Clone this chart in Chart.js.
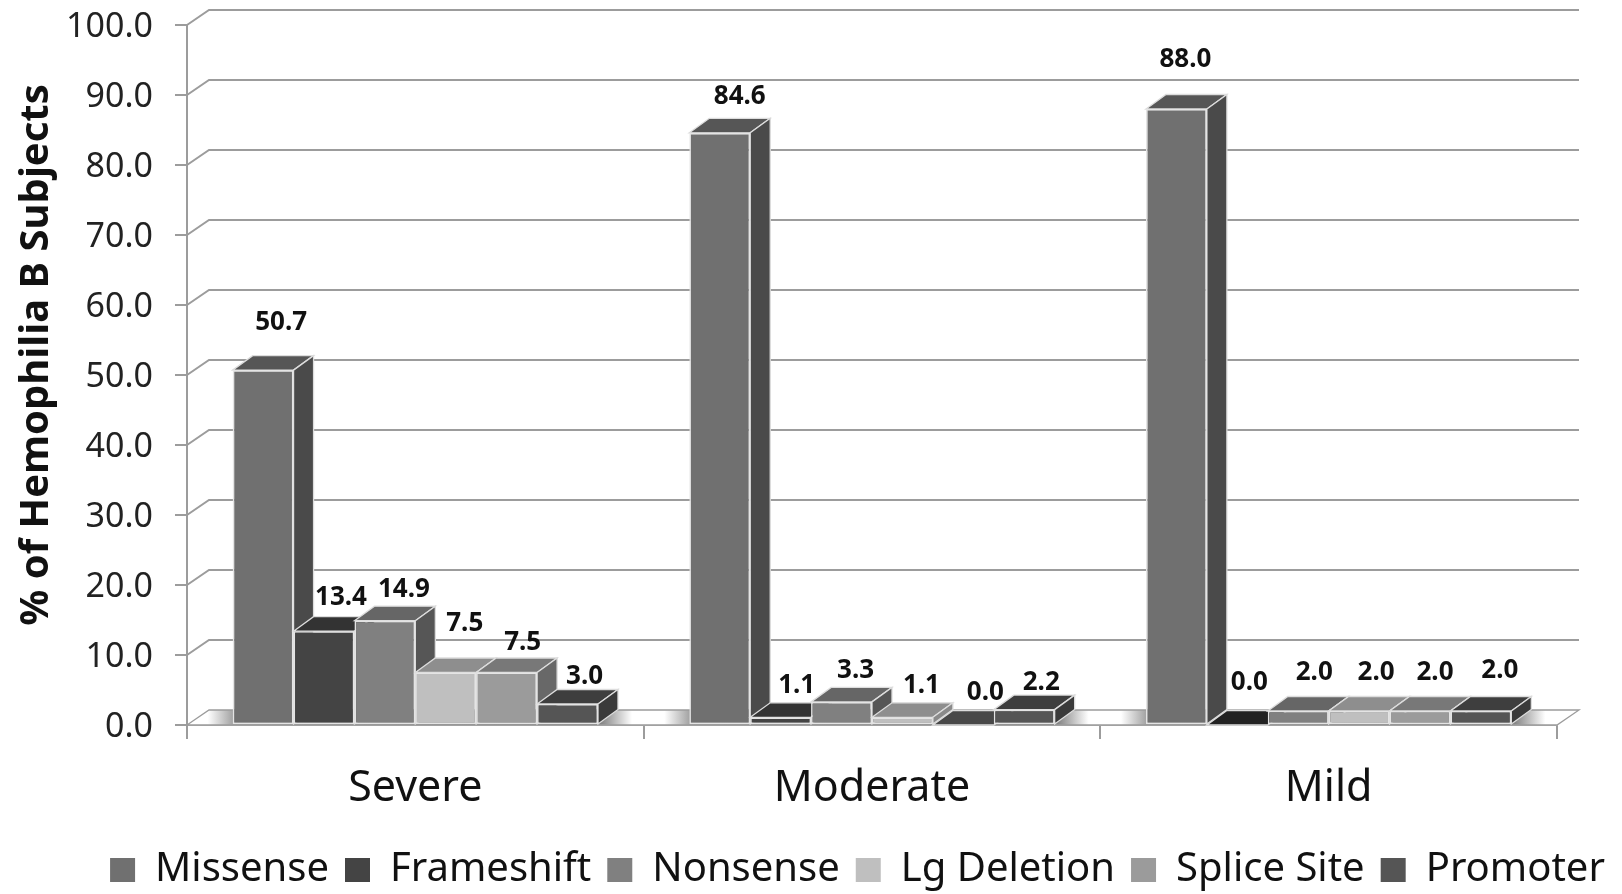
<!DOCTYPE html>
<html><head><meta charset="utf-8">
<style>html,body{margin:0;padding:0;background:#fff}canvas{display:block;filter:blur(0.6px)}</style>
<script src="https://cdn.jsdelivr.net/npm/chart.js@4/dist/chart.umd.min.js"></script>
</head><body><canvas id="c" width="1622" height="894"></canvas>
<script>
const categories = ["Severe", "Moderate", "Mild"];
const seriesNames = ["Missense", "Frameshift", "Nonsense", "Lg Deletion", "Splice Site", "Promoter"];
const missense = [50.7, 84.6, 88.0];
const frameshift = [13.4, 1.1, 0.0];
const nonsense = [14.9, 3.3, 2.0];
const lgDeletion = [7.5, 1.1, 2.0];
const spliceSite = [7.5, 0.0, 2.0];
const promoter = [3.0, 2.2, 2.0];
const seriesValues = [missense, frameshift, nonsense, lgDeletion, spliceSite, promoter];

const frontColors = ["#707070", "#444444", "#808080", "#bfbfbf", "#9b9b9b", "#555555"];
const topColors = ["#565656", "#333333", "#666666", "#8e8e8e", "#787878", "#3e3e3e"];
const sideColors = ["#4a4a4a", "#2a2a2a", "#565656", "#8a8a8a", "#686868", "#3a3a3a"];
const zeroColors = ["#444444", "#222222", "#444444", "#666666", "#484848", "#333333"];
const labelDx = [[18, 20, 9], [17, 16, 12], [19, 14, 16], [19, 19, 17], [16, 22, 15], [17, 17, 19]];
const labelDy = [[-48, -36, -49], [-34, -32, -42], [-31, -31, -38], [-49, -32, -38], [-30, -32, -38], [-27, -27, -40]];

const depthX = 20, depthY = -14.5;
const wallX = 22, wallY = -15;
const lineColor = "#9c9c9c";
const FONT = "'Noto Sans', sans-serif";

function poly(ctx, pts, fill, stroke) {
  ctx.beginPath();
  pts.forEach((p, i) => i ? ctx.lineTo(p[0], p[1]) : ctx.moveTo(p[0], p[1]));
  ctx.closePath();
  ctx.fillStyle = fill; ctx.fill();
  ctx.strokeStyle = stroke; ctx.lineWidth = 1.3; ctx.stroke();
}

const bars3d = {
  id: "bars3d",
  afterLayout(chart) {
    const L = chart.legend;
    L.left += 79; L.right += 79; L.top += 6; L.bottom += 6;
    const sy = chart.scales.y, base = sy.drawTitle;
    sy.drawTitle = function () {
      chart.ctx.save(); chart.ctx.translate(0, -20); base.call(sy); chart.ctx.restore();
    };
  },
  beforeDatasetsDraw(chart) {
    const ctx = chart.ctx, a = chart.chartArea, y = chart.scales.y;
    ctx.save();
    const y0 = y.getPixelForValue(0);
    const grad = ctx.createLinearGradient(a.left, 0, a.right + wallX, 0);
    const span = a.right + wallX - a.left;
    const stop = (px, col) => grad.addColorStop(Math.min(1, Math.max(0, (px - a.left) / span)), col);
    stop(a.left, "#ffffff");
    categories.forEach((_, c) => {
      const first = chart.getDatasetMeta(0).data[c], last = chart.getDatasetMeta(5).data[c];
      const xs = first.x - first.width / 2, xe = last.x + last.width / 2 + depthX;
      stop(xs - 25, "#ffffff"); stop(xs, "#a4a4a4"); stop(xe - 20, "#777777"); stop(xe + 14, "#ffffff");
    });
    stop(a.right + wallX, "#ffffff");
    poly(ctx, [[a.left, y0], [a.left + wallX, y0 + wallY], [a.right + wallX, y0 + wallY], [a.right, y0]], grad, lineColor);
    ctx.strokeStyle = lineColor; ctx.lineWidth = 2;
    y.ticks.forEach(t => {
      if (t.value === 0) return;
      const py = y.getPixelForValue(t.value);
      ctx.beginPath();
      ctx.moveTo(a.left, py);
      ctx.lineTo(a.left + wallX, py + wallY);
      ctx.lineTo(a.right + wallX, py + wallY);
      ctx.stroke();
    });
    categories.forEach((_, c) => {
      seriesNames.forEach((__, s) => {
        const el = chart.getDatasetMeta(s).data[c];
        const l = el.x - el.width / 2, r = el.x + el.width / 2, t = el.y, b = el.base;
        const zero = b - t <= 0.5;
        poly(ctx, [[l, t], [l + depthX, t + depthY], [r + depthX, t + depthY], [r, t]], zero ? zeroColors[s] : topColors[s], "#dddddd");
        if (!zero) {
          poly(ctx, [[r, t], [r + depthX, t + depthY], [r + depthX, b + depthY], [r, b]], sideColors[s], "#dddddd");
          el.draw(ctx);
        }
      });
    });
    ctx.fillStyle = "#111"; ctx.font = "bold 26px " + FONT;
    ctx.textAlign = "center"; ctx.textBaseline = "middle";
    categories.forEach((_, c) => {
      seriesNames.forEach((__, s) => {
        const el = chart.getDatasetMeta(s).data[c];
        ctx.fillText(seriesValues[s][c].toFixed(1), el.x + labelDx[s][c], el.y + labelDy[s][c]);
      });
    });
    ctx.restore();
    return false;
  }
};

new Chart(document.getElementById("c"), {
  type: "bar",
  data: {
    labels: categories,
    datasets: seriesNames.map((name, i) => ({
      label: name, data: seriesValues[i], backgroundColor: frontColors[i],
      borderColor: "#e4e4e4", borderWidth: 1.6, borderSkipped: false,
      categoryPercentage: 0.8, barPercentage: 1
    }))
  },
  options: {
    responsive: false, animation: false, devicePixelRatio: 1,
    layout: { padding: { left: 0, right: 65, top: 25, bottom: 0 } },
    plugins: {
      tooltip: { enabled: false },
      legend: {
        position: "bottom",
        labels: {
          boxWidth: 25, boxHeight: 24, padding: 16, color: "#111",
          font: { family: FONT, size: 40 },
          generateLabels(chart) {
            return Chart.defaults.plugins.legend.labels.generateLabels(chart).map(i => ({ ...i, lineWidth: 0 }));
          }
        }
      }
    },
    scales: {
      x: {
        afterFit(s) { s.height = 103; },
        grid: { drawOnChartArea: false, drawTicks: true, tickLength: 14, color: lineColor, lineWidth: 2, offset: true },
        border: { display: true, color: "#b2b2b2", width: 2 },
        ticks: { color: "#111", padding: 24, autoSkip: false, maxRotation: 0, font: { family: FONT, size: 43 } }
      },
      y: {
        min: 0, max: 100,
        afterFit(s) { s.width = 187; s.paddingTop = 0; s.paddingBottom = 0; },
        grid: { drawOnChartArea: false, drawTicks: true, tickLength: 12, color: lineColor, lineWidth: 2 },
        border: { display: true, color: lineColor, width: 2 },
        ticks: { stepSize: 10, color: "#222", padding: 22, labelOffset: 2.5, font: { family: FONT, size: 34 }, callback: v => Number(v).toFixed(1) },
        title: { display: true, text: "% of Hemophilia B Subjects", color: "#111", padding: { top: 13, bottom: 0 }, font: { family: FONT, size: 40, weight: "bold" } }
      }
    }
  },
  plugins: [bars3d]
});
</script></body></html>
